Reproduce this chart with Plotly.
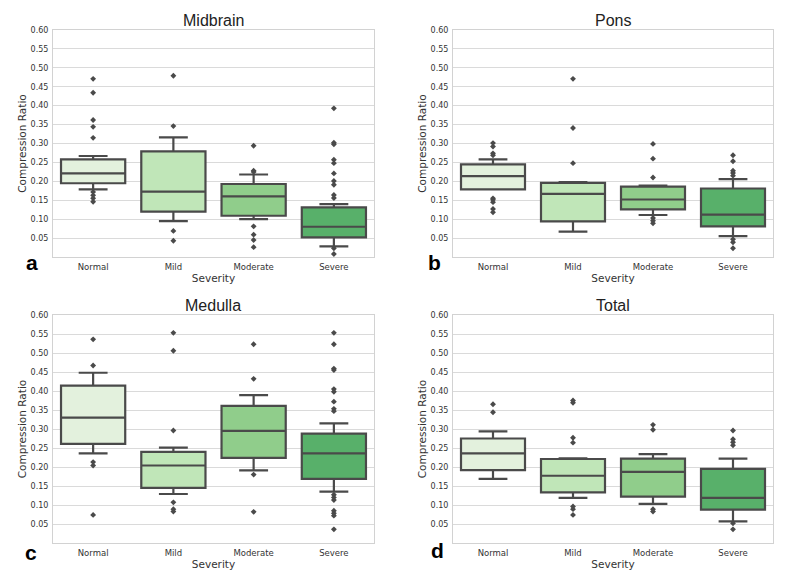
import plotly.graph_objects as go

severity = ["Normal", "Mild", "Moderate", "Severe"]
box_colors = ["#e3f1dd", "#c0e6b8", "#90cd8b", "#58b06a"]
y_ticks = [0.05, 0.10, 0.15, 0.20, 0.25, 0.30, 0.35, 0.40, 0.45, 0.50, 0.55, 0.60]

# whisker low, q1, median, q3, whisker high - one value per severity
midbrain_low = [0.179, 0.095, 0.100, 0.028]
midbrain_q1 = [0.195, 0.120, 0.109, 0.052]
midbrain_med = [0.221, 0.173, 0.160, 0.080]
midbrain_q3 = [0.258, 0.279, 0.193, 0.131]
midbrain_high = [0.267, 0.316, 0.218, 0.140]
midbrain_out = [
    [0.471, 0.434, 0.362, 0.344, 0.315, 0.172, 0.163, 0.155, 0.146],
    [0.479, 0.346, 0.069, 0.043],
    [0.294, 0.228, 0.225, 0.081, 0.059, 0.045, 0.026],
    [0.393, 0.302, 0.298, 0.257, 0.248, 0.221, 0.201, 0.191, 0.164, 0.156, 0.023, 0.008],
]

pons_low = [0.179, 0.067, 0.111, 0.055]
pons_q1 = [0.179, 0.094, 0.126, 0.081]
pons_med = [0.214, 0.167, 0.152, 0.112]
pons_q3 = [0.245, 0.196, 0.186, 0.181]
pons_high = [0.258, 0.198, 0.189, 0.206]
pons_out = [
    [0.301, 0.292, 0.274, 0.269, 0.155, 0.151, 0.145, 0.127, 0.118],
    [0.471, 0.341, 0.248],
    [0.299, 0.260, 0.210, 0.103, 0.096, 0.089],
    [0.269, 0.253, 0.228, 0.222, 0.215, 0.047, 0.039, 0.023],
]

medulla_low = [0.236, 0.129, 0.191, 0.135]
medulla_q1 = [0.261, 0.145, 0.224, 0.169]
medulla_med = [0.330, 0.204, 0.295, 0.236]
medulla_q3 = [0.414, 0.240, 0.361, 0.288]
medulla_high = [0.448, 0.251, 0.389, 0.315]
medulla_out = [
    [0.536, 0.467, 0.213, 0.204, 0.074],
    [0.553, 0.506, 0.296, 0.107, 0.089, 0.083],
    [0.523, 0.432, 0.180, 0.082],
    [0.553, 0.523, 0.459, 0.455, 0.405, 0.398, 0.372, 0.353, 0.347,
     0.127, 0.120, 0.113, 0.085, 0.078, 0.072, 0.036],
]

total_low = [0.169, 0.119, 0.103, 0.057]
total_q1 = [0.192, 0.133, 0.122, 0.088]
total_med = [0.236, 0.177, 0.187, 0.119]
total_q3 = [0.275, 0.221, 0.222, 0.195]
total_high = [0.294, 0.223, 0.234, 0.222]
total_out = [
    [0.365, 0.344],
    [0.375, 0.369, 0.277, 0.264, 0.096, 0.089, 0.074],
    [0.311, 0.298, 0.089, 0.083],
    [0.296, 0.273, 0.265, 0.257, 0.052, 0.036],
]

panels = [
    ("Midbrain", "a", midbrain_low, midbrain_q1, midbrain_med, midbrain_q3, midbrain_high, midbrain_out),
    ("Pons", "b", pons_low, pons_q1, pons_med, pons_q3, pons_high, pons_out),
    ("Medulla", "c", medulla_low, medulla_q1, medulla_med, medulla_q3, medulla_high, medulla_out),
    ("Total", "d", total_low, total_q1, total_med, total_q3, total_high, total_out),
]

W, H = 800, 572
# plot area of each panel in pixels: left, right, top, bottom
areas = [(53, 374, 30, 257), (453, 773, 30, 257), (53, 374, 315, 543), (453, 773, 315, 543)]
letter_pos = [(32, 262), (435, 262), (31, 552), (437, 550)]

fig = go.Figure()
line_col = "#4a4a4a"

for i, (name, letter, lo, q1, med, q3, hi, outs) in enumerate(panels):
    n = "" if i == 0 else str(i + 1)
    xa, ya = "x" + n, "y" + n
    for j, cat in enumerate(severity):
        fig.add_trace(go.Box(
            x=[cat], q1=[q1[j]], median=[med[j]], q3=[q3[j]],
            lowerfence=[lo[j]], upperfence=[hi[j]],
            width=0.8, whiskerwidth=0.45, boxpoints=False,
            fillcolor=box_colors[j], line=dict(color=line_col, width=2.2),
            xaxis=xa, yaxis=ya, showlegend=False,
        ))
        fig.add_trace(go.Scatter(
            x=[cat] * len(outs[j]), y=outs[j], mode="markers",
            marker=dict(symbol="diamond", size=4.5, color=line_col),
            xaxis=xa, yaxis=ya, showlegend=False,
        ))

    l, r, t, b = areas[i]
    fig.layout["xaxis" + n] = dict(
        domain=[l / W, r / W], anchor=ya, type="category", automargin=False,
        categoryorder="array", categoryarray=severity, range=[-0.5, 3.5],
        showgrid=False, showline=True, mirror=True, linecolor="#d2d2d2", linewidth=1,
        ticks="outside", ticklen=2, tickcolor="rgba(0,0,0,0)",
        tickfont=dict(family="DejaVu Sans", size=8.5, color="#333"),
        title=dict(text="Severity", standoff=2, font=dict(family="DejaVu Sans", size=10.5, color="#333")),
        zeroline=False,
    )
    fig.layout["yaxis" + n] = dict(
        domain=[1 - b / H, 1 - t / H], anchor=xa, range=[0, 0.6], automargin=False,
        tickvals=y_ticks, tickformat=".2f",
        showgrid=True, gridcolor="#dadada", gridwidth=1,
        showline=True, mirror=True, linecolor="#d2d2d2", linewidth=1,
        ticks="outside", ticklen=2, tickcolor="rgba(0,0,0,0)",
        tickfont=dict(family="DejaVu Sans", size=8, color="#333"),
        title=dict(text="Compression Ratio", standoff=1, font=dict(family="DejaVu Sans", size=10.5, color="#333")),
        zeroline=False,
    )
    fig.add_annotation(
        text=name, x=(l + r) / 2 / W, y=1 - (t - 10) / H, xref="paper", yref="paper",
        showarrow=False, font=dict(family="Liberation Sans", size=16, color="#222"),
        xanchor="center", yanchor="middle",
    )
    lx, ly = letter_pos[i]
    fig.add_annotation(
        text="<b>" + letter + "</b>", x=lx / W, y=1 - ly / H, xref="paper", yref="paper",
        showarrow=False, font=dict(family="Liberation Sans", size=21, color="#000"),
        xanchor="center", yanchor="middle",
    )

fig.update_layout(
    width=W, height=H, margin=dict(l=0, r=0, t=0, b=0),
    paper_bgcolor="white", plot_bgcolor="white", boxmode="overlay",
)

# page body has a default 8px margin; drop it so the figure fills the window
fig.write_html("out.html", config={"displayModeBar": False},
               post_script="document.body.style.margin='0px';")
